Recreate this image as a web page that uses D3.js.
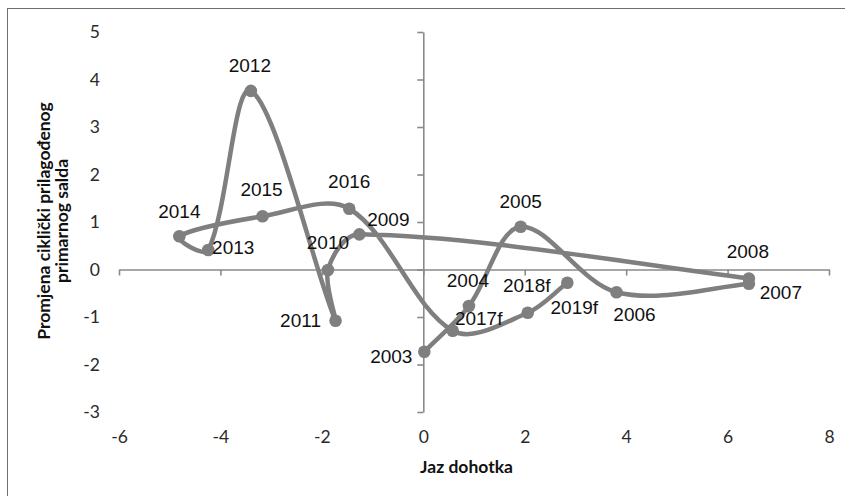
<!DOCTYPE html>
<html>
<head>
<meta charset="utf-8">
<script src="https://cdn.jsdelivr.net/npm/d3@7/dist/d3.min.js"></script>
<style>
  html, body { margin: 0; padding: 0; background: #fff; }
  svg { display: block; }
</style>
</head>
<body>
<svg id="chart" width="845" height="496"></svg>
<script>
// ---- data ----
const years   = ["2003","2004","2005","2006","2007","2008","2009","2010","2011","2012","2013","2014","2015","2016","2017f","2018f","2019f"];
const gap     = [0.02, 0.90, 1.92, 3.81, 6.42, 6.42, -1.26, -1.88, -1.73, -3.40, -4.24, -4.81, -3.17, -1.46, 0.58, 2.06, 2.84];
const balance = [-1.73, -0.77, 0.90, -0.48, -0.30, -0.19, 0.74, -0.01, -1.08, 3.76, 0.41, 0.70, 1.12, 1.28, -1.29, -0.91, -0.28];
const xTicks  = [-6, -4, -2, 0, 2, 4, 6, 8];
const yTicks  = [-3, -2, -1, 0, 1, 2, 3, 4, 5];
const xTitle  = "Jaz dohotka";
const yTitle  = ["Promjena ciklički prilagođenog", "primarnog salda"];
// label placement (pixel offsets of label centre from its point)
const labelOffsets = [[-33,5],[-1,-26],[0,-25],[18,22],[32,9],[-1,-27],[29,-15],[0,-27],[-35,0],[-1,-25],[25,-3],[0,-25],[-1,-27],[0,-27],[26,-12],[-1,-27],[7,25]];

// smoothing curve (chord-length weighted Bezier, similar to a spreadsheet "smoothed line")
function smoothCurve(context) {
  let pts = [];
  return {
    areaStart() {}, areaEnd() {},
    lineStart() { pts = []; },
    point(px, py) { pts.push([+px, +py]); },
    lineEnd() {
      const n = pts.length;
      if (!n) return;
      const P = i => pts[Math.max(0, Math.min(n - 1, i))];
      const dist = (a, b) => Math.hypot(b[0] - a[0], b[1] - a[1]);
      const tan = i => [P(i + 1)[0] - P(i - 1)[0], P(i + 1)[1] - P(i - 1)[1]];
      const w = (i, side) => {
        const dp = dist(P(i - 1), P(i)), dn = dist(P(i), P(i + 1));
        const s = dp + dn;
        if (s === 0) return 0;
        return (side > 0 ? dn : dp) / s / 3;
      };
      context.moveTo(pts[0][0], pts[0][1]);
      for (let i = 0; i < n - 1; i++) {
        const a = pts[i], b = pts[i + 1];
        const ta = tan(i), tb = tan(i + 1);
        const wa = w(i, 1), wb = w(i + 1, -1);
        context.bezierCurveTo(a[0] + ta[0] * wa, a[1] + ta[1] * wa,
                              b[0] - tb[0] * wb, b[1] - tb[1] * wb,
                              b[0], b[1]);
      }
    }
  };
}

const svg = d3.select("#chart");
const L = 119, R = 829, T = 32, B = 412;

const x = d3.scaleLinear().domain([-6, 8]).range([L, R]);
const y = d3.scaleLinear().domain([-3, 5]).range([B, T]);

// frame
svg.append("rect").attr("x", 7.5).attr("y", 8.5).attr("width", 900).attr("height", 700)
  .attr("fill", "none").attr("stroke", "#6e6e6e").attr("stroke-width", 1);

const axisColor = "#8a8a8a";
const tickFont = "Lato, 'Open Sans', sans-serif";

// y axis at x=0
const yAx = svg.append("g").attr("transform", `translate(${x(0)},0)`)
  .call(d3.axisLeft(y).tickValues(yTicks).tickFormat(d3.format("d")).tickSize(6).tickSizeOuter(0).tickPadding(x(0) - 100 - 6));
// x axis at y=0
const xAx = svg.append("g").attr("transform", `translate(0,${y(0)})`)
  .call(d3.axisBottom(x).tickValues(xTicks).tickFormat(d3.format("d")).tickSize(6).tickSizeOuter(0).tickPadding(B - y(0) + 13));

[yAx, xAx].forEach(g => {
  g.select(".domain").attr("stroke", axisColor).attr("stroke-width", 1.6);
  g.selectAll(".tick line").attr("stroke", axisColor).attr("stroke-width", 1.6);
  g.selectAll(".tick text").attr("fill", "#2a2a2a").style("font-family", tickFont).style("font-size", "17.5px");
});
yAx.selectAll(".tick text").text(d => d < 0 ? "-" + Math.abs(d) : d);
xAx.selectAll(".tick text").text(d => d < 0 ? "-" + Math.abs(d) : d);

// axis titles
svg.append("text").attr("x", 466.5).attr("y", 473).attr("text-anchor", "middle")
  .style("font-family", tickFont).style("font-weight", "bold").style("font-size", "17.5px").attr("fill", "#111")
  .text(xTitle);
const yt = svg.append("text").attr("transform", "translate(50,221) rotate(-90)").attr("text-anchor", "middle")
  .style("font-family", tickFont).style("font-weight", "bold").style("font-size", "17.5px").attr("fill", "#111");
yTitle.forEach((t, i) => yt.append("tspan").attr("x", 0).attr("y", i * 18.3).text(t));

// series
const pts = years.map((yr, i) => ({ yr, gx: gap[i], by: balance[i], off: labelOffsets[i] }));
const lineColor = "#7f7f7f";
const line = d3.line().x(d => x(d.gx)).y(d => y(d.by)).curve(smoothCurve);
svg.append("path").datum(pts).attr("d", line).attr("fill", "none")
  .attr("stroke", lineColor).attr("stroke-width", 4.5).attr("stroke-linejoin", "round").attr("stroke-linecap", "round");
svg.append("g").selectAll("circle").data(pts).join("circle")
  .attr("cx", d => x(d.gx)).attr("cy", d => y(d.by)).attr("r", 6.3).attr("fill", lineColor);

// data labels
svg.append("g").selectAll("text").data(pts).join("text")
  .attr("x", d => x(d.gx) + d.off[0]).attr("y", d => y(d.by) + d.off[1])
  .attr("text-anchor", "middle").attr("dominant-baseline", "central")
  .style("font-family", "'Liberation Sans', Arial, sans-serif").style("font-size", "19px").attr("fill", "#111")
  .text(d => d.yr);
</script>
</body>
</html>
